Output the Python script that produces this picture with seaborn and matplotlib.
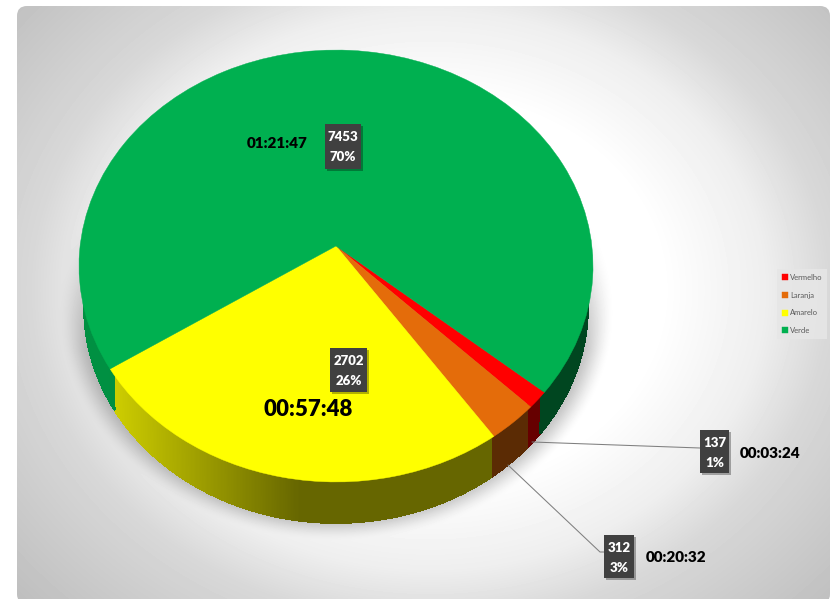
import numpy as np
import matplotlib
matplotlib.use("Agg")
import matplotlib.pyplot as plt
import seaborn as sns
from matplotlib.collections import PolyCollection
from matplotlib.patches import FancyBboxPatch, Rectangle
from matplotlib.transforms import Transform

categories = ["Vermelho", "Laranja", "Amarelo", "Verde"]
values = [137, 312, 2702, 7453]
percent_labels = ["1%", "3%", "26%", "70%"]
time_labels = ["00:03:24", "00:20:32", "00:57:48", "01:21:47"]
palette = ["#FF0000", "#E46C0A", "#FFFF00", "#00B050"]

sns.set_theme(style="white")
plt.rcParams["font.family"] = ["Lato", "DejaVu Sans"]

W, H = 835, 599
fig = plt.figure(figsize=(W / 100, H / 100), dpi=100, facecolor="white")
ax = fig.add_axes([0, 0, 1, 1])

# perspective view of the unit-circle pie onto the picture
CX, CY, A, B, K = 336.0, 246.0, 214.1, 255.9, 0.0926
DEPTH, SHRINK = 41.0, 0.98


class Perspective(Transform):
    input_dims = 2
    output_dims = 2
    is_affine = False
    has_inverse = False

    def transform_non_affine(self, values):
        v = np.asarray(values, dtype=float)
        d = 1 + K * v[:, 1]
        return np.column_stack([CX + B * v[:, 0] / d, CY - A * v[:, 1] / d])


persp = Perspective()
wedges, _ = ax.pie(values, colors=palette, startangle=-40, counterclock=False,
                   radius=1, labels=categories, labeldistance=None,
                   wedgeprops=dict(linewidth=0.3, zorder=5))
for w, col in zip(wedges, palette):
    w.set_transform(persp + ax.transData)
    w.set_edgecolor(col)

ax.set_aspect("auto")
ax.set_xlim(0, W)
ax.set_ylim(H, 0)
ax.set_axis_off()

# panel gradient with soft pie shadow
yy, xx = np.mgrid[0:H, 0:W]
r = np.hypot((xx - 430) / 420, (yy - 290) / 350)
grey = np.interp(r, [0, .55, .80, .95, 1.32], [255, 255, 238, 216, 190]) / 255
ed = np.hypot((xx - 336) / 279, (yy - 310) / 231)
sh = np.clip((1 - ed) / 0.13, 0, 1)
sh = sh * sh * (3 - 2 * sh)
sh *= np.clip((yy - 180) / 170, 0, 1) ** 1.2
grey = grey * (1 - 0.28 * sh)
panel = FancyBboxPatch((27, 16), 793, 578, boxstyle="round,pad=10",
                       transform=ax.transData, facecolor="none", edgecolor="none")
ax.add_patch(panel)
im = ax.imshow(grey, cmap="gray", vmin=0, vmax=1, extent=(0, W, H, 0),
               aspect="auto", zorder=0, interpolation="bilinear")
im.set_clip_path(panel)
ax.set_xlim(0, W)
ax.set_ylim(H, 0)


# extruded side of the pie, built from the wedge angles
def rim(theta):
    t = np.radians(theta)
    unit = np.column_stack([np.cos(t), np.sin(t)])
    pts = persp.transform(unit)
    low = np.column_stack([CX + SHRINK * (pts[:, 0] - CX), pts[:, 1] + DEPTH])
    # upper edge tucked just under the top face
    return persp.transform(unit * 0.985), low, pts


def shade(x):
    return np.interp(x, [105, 300], [0.82, 0.40])


quads, quad_cols = [], []
for w, col in zip(wedges, palette):
    th = np.linspace(w.theta1, w.theta2, int(abs(w.theta2 - w.theta1)) * 3 + 2)
    top, low, outer = rim(th)
    base = np.array(matplotlib.colors.to_rgb(col))
    for i in range(len(th) - 1):
        if np.sin(np.radians(th[i])) > -0.08:  # far side stays hidden
            continue
        quads.append([top[i], top[i + 1], low[i + 1], low[i]])
        quad_cols.append(base * shade(outer[i:i + 2, 0].mean()))
ax.add_collection(PolyCollection(quads, facecolors=quad_cols, edgecolors=quad_cols,
                                 linewidths=0.7, antialiaseds=False, zorder=3))

# leader lines
ax.plot([532, 700], [442, 448], color="#7f7f7f", lw=0.75, zorder=6)
ax.plot([508, 600, 604], [465, 552, 552], color="#7f7f7f", lw=0.75, zorder=6)

# data labels: box (x0, y0, x1, y1), time position
boxes = [(700, 430, 729, 473), (604, 535, 634, 578),
         (330, 348, 367, 392), (325, 124, 361, 169)]
time_xy = [(740, 454), (646, 558), (263, 410), (247, 144)]
time_size = [11, 11, 16, 11]

for (x0, y0, x1, y1), v, p, t, (tx, ty), fs in zip(boxes, values, percent_labels,
                                                  time_labels, time_xy, time_size):
    ax.add_patch(Rectangle((x0 + 1.5, y0 + 1.5), x1 - x0, y1 - y0, facecolor="black",
                           alpha=0.3, edgecolor="none", zorder=7))
    ax.add_patch(Rectangle((x0, y0), x1 - x0, y1 - y0, facecolor="#404040",
                           edgecolor="none", zorder=8))
    xm = (x0 + x1) / 2
    ax.text(xm, y0 + 13, str(v), color="white", fontsize=9.5, fontweight="heavy",
            ha="center", va="center", zorder=9)
    ax.text(xm, y0 + 33, p, color="white", fontsize=9.5, fontweight="heavy",
            ha="center", va="center", zorder=9)
    ax.text(tx, ty, t, color="black", fontsize=fs, fontweight="heavy",
            ha="left", va="center", zorder=9)

leg = ax.legend(wedges, categories, loc="center",
                bbox_to_anchor=(802 / W, 1 - 304 / H), bbox_transform=fig.transFigure,
                frameon=True, facecolor="#e6e6e6", edgecolor="none", framealpha=0.9,
                fancybox=False, fontsize=5.5, labelcolor="#595959",
                handlelength=0.8, handleheight=0.8, handletextpad=0.3,
                labelspacing=1.4, borderpad=0.6, borderaxespad=0)
leg.set_zorder(10)

fig.savefig("out.png", dpi=100, facecolor="white")
